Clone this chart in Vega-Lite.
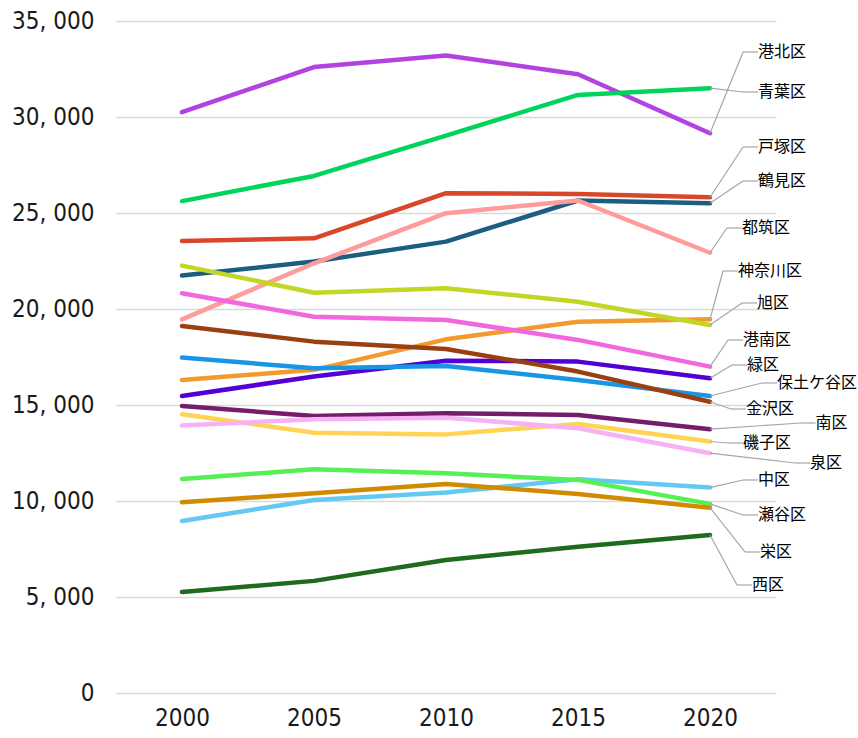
{
  "$schema": "https://vega.github.io/schema/vega-lite/v6.json",
  "width": 660,
  "height": 672,
  "autosize": {"type": "none"},
  "padding": {"left": 116, "top": 21, "right": 82, "bottom": 45},
  "background": "white",
  "config": {"view": {"stroke": null}},
  "datasets": {
    "pop": [
      {"ward": "港北区", "year": 2000, "value": 30250}, {"ward": "港北区", "year": 2005, "value": 32600}, {"ward": "港北区", "year": 2010, "value": 33200}, {"ward": "港北区", "year": 2015, "value": 32230}, {"ward": "港北区", "year": 2020, "value": 29150},
      {"ward": "青葉区", "year": 2000, "value": 25620}, {"ward": "青葉区", "year": 2005, "value": 26930}, {"ward": "青葉区", "year": 2010, "value": 29030}, {"ward": "青葉区", "year": 2015, "value": 31150}, {"ward": "青葉区", "year": 2020, "value": 31500},
      {"ward": "戸塚区", "year": 2000, "value": 23540}, {"ward": "戸塚区", "year": 2005, "value": 23680}, {"ward": "戸塚区", "year": 2010, "value": 26030}, {"ward": "戸塚区", "year": 2015, "value": 25990}, {"ward": "戸塚区", "year": 2020, "value": 25820},
      {"ward": "鶴見区", "year": 2000, "value": 21740}, {"ward": "鶴見区", "year": 2005, "value": 22470}, {"ward": "鶴見区", "year": 2010, "value": 23510}, {"ward": "鶴見区", "year": 2015, "value": 25650}, {"ward": "鶴見区", "year": 2020, "value": 25510},
      {"ward": "都筑区", "year": 2000, "value": 19460}, {"ward": "都筑区", "year": 2005, "value": 22380}, {"ward": "都筑区", "year": 2010, "value": 24990}, {"ward": "都筑区", "year": 2015, "value": 25650}, {"ward": "都筑区", "year": 2020, "value": 22930},
      {"ward": "神奈川区", "year": 2000, "value": 16300}, {"ward": "神奈川区", "year": 2005, "value": 16830}, {"ward": "神奈川区", "year": 2010, "value": 18420}, {"ward": "神奈川区", "year": 2015, "value": 19340}, {"ward": "神奈川区", "year": 2020, "value": 19460},
      {"ward": "旭区", "year": 2000, "value": 22260}, {"ward": "旭区", "year": 2005, "value": 20850}, {"ward": "旭区", "year": 2010, "value": 21080}, {"ward": "旭区", "year": 2015, "value": 20380}, {"ward": "旭区", "year": 2020, "value": 19170},
      {"ward": "港南区", "year": 2000, "value": 20820}, {"ward": "港南区", "year": 2005, "value": 19600}, {"ward": "港南区", "year": 2010, "value": 19430}, {"ward": "港南区", "year": 2015, "value": 18390}, {"ward": "港南区", "year": 2020, "value": 17000},
      {"ward": "緑区", "year": 2000, "value": 15470}, {"ward": "緑区", "year": 2005, "value": 16480}, {"ward": "緑区", "year": 2010, "value": 17310}, {"ward": "緑区", "year": 2015, "value": 17260}, {"ward": "緑区", "year": 2020, "value": 16390},
      {"ward": "保土ケ谷区", "year": 2000, "value": 17470}, {"ward": "保土ケ谷区", "year": 2005, "value": 16910}, {"ward": "保土ケ谷区", "year": 2010, "value": 17030}, {"ward": "保土ケ谷区", "year": 2015, "value": 16300}, {"ward": "保土ケ谷区", "year": 2020, "value": 15470},
      {"ward": "金沢区", "year": 2000, "value": 19120}, {"ward": "金沢区", "year": 2005, "value": 18300}, {"ward": "金沢区", "year": 2010, "value": 17920}, {"ward": "金沢区", "year": 2015, "value": 16740}, {"ward": "金沢区", "year": 2020, "value": 15170},
      {"ward": "南区", "year": 2000, "value": 14950}, {"ward": "南区", "year": 2005, "value": 14430}, {"ward": "南区", "year": 2010, "value": 14570}, {"ward": "南区", "year": 2015, "value": 14480}, {"ward": "南区", "year": 2020, "value": 13740},
      {"ward": "磯子区", "year": 2000, "value": 14520}, {"ward": "磯子区", "year": 2005, "value": 13560}, {"ward": "磯子区", "year": 2010, "value": 13470}, {"ward": "磯子区", "year": 2015, "value": 14010}, {"ward": "磯子区", "year": 2020, "value": 13100},
      {"ward": "泉区", "year": 2000, "value": 13930}, {"ward": "泉区", "year": 2005, "value": 14260}, {"ward": "泉区", "year": 2010, "value": 14340}, {"ward": "泉区", "year": 2015, "value": 13790}, {"ward": "泉区", "year": 2020, "value": 12490},
      {"ward": "中区", "year": 2000, "value": 8960}, {"ward": "中区", "year": 2005, "value": 10050}, {"ward": "中区", "year": 2010, "value": 10440}, {"ward": "中区", "year": 2015, "value": 11130}, {"ward": "中区", "year": 2020, "value": 10700},
      {"ward": "瀬谷区", "year": 2000, "value": 11150}, {"ward": "瀬谷区", "year": 2005, "value": 11650}, {"ward": "瀬谷区", "year": 2010, "value": 11440}, {"ward": "瀬谷区", "year": 2015, "value": 11100}, {"ward": "瀬谷区", "year": 2020, "value": 9850},
      {"ward": "栄区", "year": 2000, "value": 9930}, {"ward": "栄区", "year": 2005, "value": 10400}, {"ward": "栄区", "year": 2010, "value": 10890}, {"ward": "栄区", "year": 2015, "value": 10370}, {"ward": "栄区", "year": 2020, "value": 9650},
      {"ward": "西区", "year": 2000, "value": 5260}, {"ward": "西区", "year": 2005, "value": 5840}, {"ward": "西区", "year": 2010, "value": 6930}, {"ward": "西区", "year": 2015, "value": 7620}, {"ward": "西区", "year": 2020, "value": 8230}
    ],
    "labels": [
      {"ward": "港北区", "lx": 2021.82, "ly": 33385},
      {"ward": "青葉区", "lx": 2021.82, "ly": 31302},
      {"ward": "戸塚区", "lx": 2021.82, "ly": 28438},
      {"ward": "鶴見区", "lx": 2021.82, "ly": 26667},
      {"ward": "都筑区", "lx": 2021.21, "ly": 24219},
      {"ward": "神奈川区", "lx": 2021.06, "ly": 21979},
      {"ward": "旭区", "lx": 2021.78, "ly": 20313},
      {"ward": "港南区", "lx": 2021.25, "ly": 18385},
      {"ward": "緑区", "lx": 2021.4, "ly": 17083},
      {"ward": "保土ケ谷区", "lx": 2022.54, "ly": 16146},
      {"ward": "金沢区", "lx": 2021.36, "ly": 14792},
      {"ward": "南区", "lx": 2024.0, "ly": 14063},
      {"ward": "磯子区", "lx": 2021.25, "ly": 13021},
      {"ward": "泉区", "lx": 2023.79, "ly": 11979},
      {"ward": "中区", "lx": 2021.82, "ly": 11094},
      {"ward": "瀬谷区", "lx": 2021.82, "ly": 9271},
      {"ward": "栄区", "lx": 2021.89, "ly": 7344},
      {"ward": "西区", "lx": 2021.59, "ly": 5625}
    ]
  },
  "layer": [
    {
      "data": {"name": "pop"},
      "mark": {"type": "line", "strokeWidth": 4.5, "strokeCap": "round", "strokeJoin": "round"},
      "encoding": {
        "x": {
          "field": "year", "type": "quantitative",
          "scale": {"domain": [1997.5, 2022.5], "nice": false, "zero": false},
          "axis": {"values": [2000, 2005, 2010, 2015, 2020], "format": "d", "grid": false, "domain": false, "ticks": false, "title": null,
                   "labelFont": "'DejaVu Sans Condensed', 'Liberation Sans', sans-serif", "labelFontSize": 24, "labelColor": "#1a1a1a", "labelPadding": 13}
        },
        "y": {
          "field": "value", "type": "quantitative",
          "scale": {"domain": [0, 35000], "nice": false},
          "axis": {"values": [0, 5000, 10000, 15000, 20000, 25000, 30000, 35000],
                   "labelExpr": "replace(format(datum.value, ','), ',', ', ')",
                   "grid": true, "gridColor": "#D9D9D9", "gridWidth": 1.5, "domain": false, "ticks": false, "title": null,
                   "labelFont": "'DejaVu Sans Condensed', 'Liberation Sans', sans-serif", "labelFontSize": 24, "labelColor": "#1a1a1a", "labelPadding": 22}
        },
        "color": {
          "field": "ward", "type": "nominal", "legend": null,
          "scale": {
            "domain": ["港北区", "青葉区", "戸塚区", "鶴見区", "都筑区", "神奈川区", "旭区", "港南区", "緑区", "保土ケ谷区", "金沢区", "南区", "磯子区", "泉区", "中区", "瀬谷区", "栄区", "西区"],
            "range": ["#B243E0", "#00D45A", "#D9472B", "#1B5E80", "#FF9B9B", "#F29A30", "#C2D626", "#F266DE", "#5200D6", "#1996E3", "#9A3F12", "#751C6B", "#FFD454", "#F7B2F5", "#63C9F2", "#55F055", "#D18B00", "#1E6B1E"]
          }
        }
      }
    },
    {
      "data": {"name": "pop"},
      "transform": [
        {"filter": "datum.year == 2020"},
        {"lookup": "ward", "from": {"data": {"name": "labels"}, "key": "ward", "fields": ["lx", "ly"]}}
      ],
      "mark": {"type": "rule", "color": "#A6A6A6", "strokeWidth": 1.2, "x2Offset": -15},
      "encoding": {
        "x": {"field": "year", "type": "quantitative"},
        "y": {"field": "value", "type": "quantitative"},
        "x2": {"field": "lx"},
        "y2": {"field": "ly"}
      }
    },
    {
      "data": {"name": "labels"},
      "mark": {"type": "rule", "color": "#A6A6A6", "strokeWidth": 1.2, "xOffset": -15},
      "encoding": {
        "x": {"field": "lx", "type": "quantitative"},
        "x2": {"field": "lx"},
        "y": {"field": "ly", "type": "quantitative"}
      }
    },
    {
      "data": {"name": "labels"},
      "mark": {"type": "text", "align": "left", "baseline": "middle", "font": "Noto Sans CJK JP", "fontSize": 16, "color": "#000000"},
      "encoding": {
        "x": {"field": "lx", "type": "quantitative"},
        "y": {"field": "ly", "type": "quantitative"},
        "text": {"field": "ward"}
      }
    }
  ]
}
